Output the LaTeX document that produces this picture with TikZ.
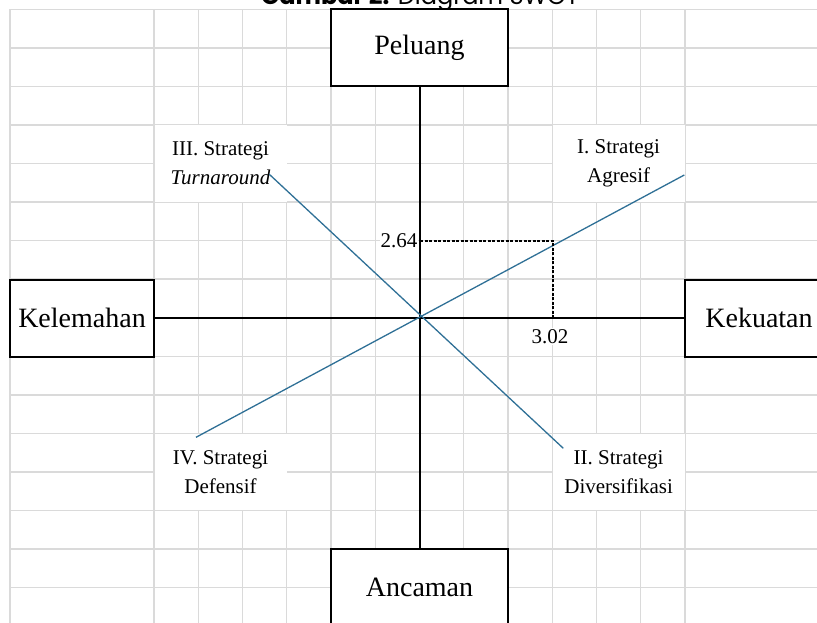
\documentclass[tikz,border=0pt]{standalone}
\usepackage{fontspec}
\setmainfont{Liberation Serif}
\newfontfamily\titlefont{Poppins}
\usetikzlibrary{positioning}
\definecolor{gridgray}{RGB}{218,218,218}
\definecolor{swotblue}{RGB}{47,112,150}

\begin{document}
\begin{tikzpicture}[x=1pt,y=-1pt,
  box/.style={draw=black,line width=1.9pt,fill=white,inner sep=0pt,minimum width=177pt,minimum height=77pt,font=\fontsize{28}{32}\selectfont},
  quad/.style={fill=white,align=center,inner sep=0pt,minimum width=132pt,minimum height=76pt,font=\fontsize{21}{29}\selectfont},
  num/.style={fill=white,inner sep=1pt,font=\fontsize{21}{25}\selectfont},
  strat/.style={swotblue,line width=1.3pt}]
\useasboundingbox (0,0) rectangle (817,623);
% sheet grid
\foreach \k in {0,...,16} \draw[gridgray,line width=1.4pt] (10,9.3+38.55*\k) -- (817,9.3+38.55*\k);
\draw[gridgray,line width=1.4pt] (10,9.3) -- (10,623);
\foreach \j in {0,...,12} \draw[gridgray,line width=1.4pt] (154+44.25*\j,9.3) -- (154+44.25*\j,623);
\node[anchor=base,font=\titlefont\fontsize{24}{28}\selectfont] (title) at (420,5) {\textbf{Gambar 2.} Diagram SWOT};
% quadrant labels
\node[quad] (q3) at (220.5,163.5) {III. Strategi\\\textit{Turnaround}};
\node[quad] (q1) at (618.6,163.5) {I. Strategi\\Agresif};
\node[quad] (q4) at (220.5,472) {IV. Strategi\\Defensif};
\node[quad] (q2) at (618.6,472) {II. Strategi\\Diversifikasi};
% axes
\node[box] (peluang) at (419.5,47.9) {Peluang};
\node[box] (ancaman) at (419.5,587.7) {Ancaman};
\node[box,minimum width=144pt] (kelemahan) at (82,318.2) {Kelemahan};
\node[box,minimum width=148pt] (kekuatan) at (759,318.2) {Kekuatan};
\draw[line width=2pt] (peluang) -- (ancaman);
\draw[line width=2pt] (kelemahan) -- (kekuatan);
\coordinate (O) at (420,317.7);
% strategy lines
\coordinate (agr) at (684.3,175);
\coordinate (def) at (196,437.3);
\coordinate (tur) at (269.3,174.3);
\coordinate (div) at (563.3,448.3);
\draw[strat] (def) -- (agr);
\draw[strat] (tur) -- (div);
% position point
\coordinate (P) at (552.7,241);
\draw[line width=1.8pt,dash pattern=on 3pt off 1.5pt] (O |- P) -- (P) -- (P |- O);
\node[num,anchor=east] (y264) at (418.5,241) {2.64};
\node[num] (x302) at (550,336.5) {3.02};
\end{tikzpicture}
\end{document}
